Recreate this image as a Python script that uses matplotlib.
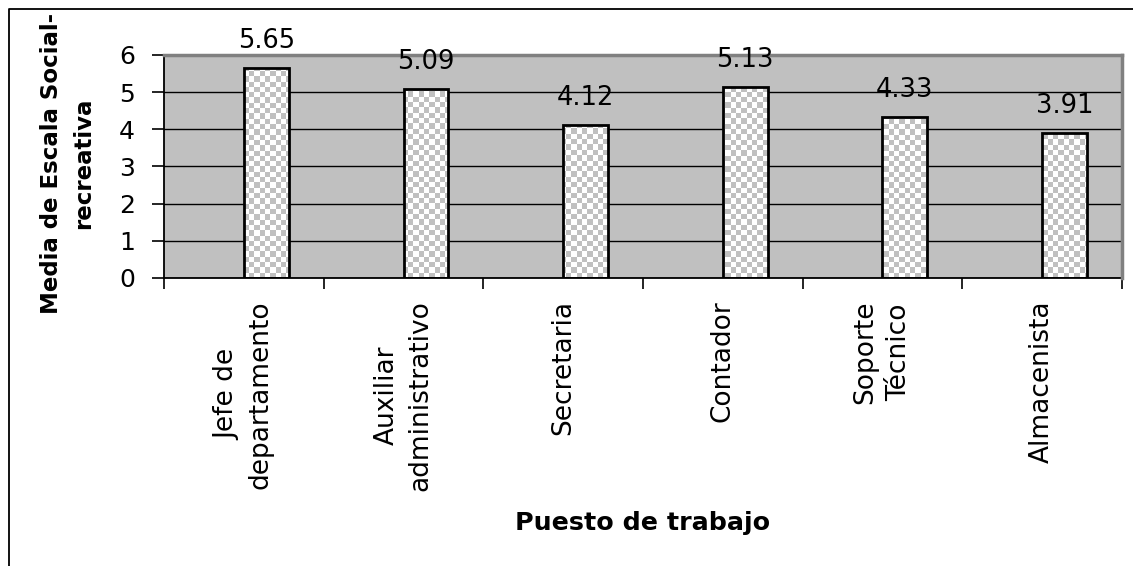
import numpy as np
import matplotlib
matplotlib.use('Agg')
import matplotlib.pyplot as plt
from matplotlib.lines import Line2D

plt.rcParams['font.family'] = ['DejaVu Sans']

# medias por puesto de trabajo
puestos = ['Jefe de\ndepartamento', 'Auxiliar\nadministrativo', 'Secretaria',
           'Contador', 'Soporte\nTécnico', 'Almacenista']
medias = [5.65, 5.09, 4.12, 5.13, 4.33, 3.91]
y_ticks = [0, 1, 2, 3, 4, 5, 6]

W, H = 1133, 566
fig = plt.figure(figsize=(W / 100, H / 100), dpi=100)
fig.patch.set_facecolor('white')

# area de grafico en pixeles: x 164..1122, y 55..278
ax = fig.add_axes([164 / W, 1 - 278 / H, (1122 - 164) / W, (278 - 55) / H])
ax.set_facecolor('#c0c0c0')

x = np.arange(len(puestos))
bx = x + 0.14
ax.set_xlim(-0.5, len(puestos) - 0.5)
ax.set_ylim(0, 6)

# barras: fondo blanco, cuadriculado gris encima, borde negro
fondo = ax.bar(bx, medias, width=0.28, color='white', edgecolor='none', zorder=2)

# cuadriculado de ~5 px alineado a los ejes
ax_w, ax_h = 1122 - 164, 278 - 55
nx, ny = int(round(ax_w / 5.3)), int(round(ax_h / 5.3))
jj, ii = np.meshgrid(np.arange(nx), np.arange(ny))
tablero = ((ii + jj) % 2).astype(float)
cmap = matplotlib.colors.ListedColormap(['white', '#c0c0c0'])
for b in fondo:
    im = ax.imshow(tablero, cmap=cmap, extent=(0, 1, 0, 1), transform=ax.transAxes,
                   aspect='auto', interpolation='nearest', zorder=2.2)
    im.set_clip_path(b)
ax.bar(bx, medias, width=0.28, color='none', edgecolor='black', linewidth=2, zorder=3)

ax.set_xlim(-0.5, len(puestos) - 0.5)
ax.set_ylim(0, 6)

for xi, v in zip(bx, medias):
    ax.annotate('%.2f' % v, (xi, v), xytext=(0, 10), textcoords='offset points',
                ha='center', va='bottom', fontsize=18.5, zorder=4)

# ejes
ax.set_yticks(y_ticks)
ax.set_yticklabels([str(t) for t in y_ticks], fontsize=18)
ax.tick_params(axis='y', length=9, width=1.2, pad=12, direction='out')
ax.yaxis.grid(True, color='black', linewidth=1)
ax.set_axisbelow(True)

ax.set_xticks(x)
ax.set_xticklabels(puestos, rotation=90, fontsize=19, ha='center', va='top',
                   multialignment='center', linespacing=1.4)
ax.tick_params(axis='x', which='major', length=0, pad=16)
ax.set_xticks(np.arange(len(puestos) + 1) - 0.5, minor=True)
ax.tick_params(axis='x', which='minor', length=8, width=1.2, direction='out')

for s in ['left', 'bottom']:
    ax.spines[s].set_color('black')
    ax.spines[s].set_linewidth(1.3)
for s in ['top', 'right']:
    ax.spines[s].set_color('#808080')
    ax.spines[s].set_linewidth(2.5)
    ax.spines[s].set_zorder(3.5)

fig.text(68 / W, 1 - 163 / H, 'Media de Escala Social-\nrecreativa', rotation=90,
         ha='center', va='center', fontsize=16.5, fontweight='bold', linespacing=1.5)
fig.text(643 / W, 1 - 523 / H, 'Puesto de trabajo', ha='center', va='center',
         fontsize=18.3, fontweight='bold')

# marco exterior (izquierda y arriba)
fig.add_artist(Line2D([8.5 / W, 8.5 / W, 1], [0, 1 - 9 / H, 1 - 9 / H],
                      transform=fig.transFigure, color='black', linewidth=1.3))

plt.savefig('out.png', dpi=100)
